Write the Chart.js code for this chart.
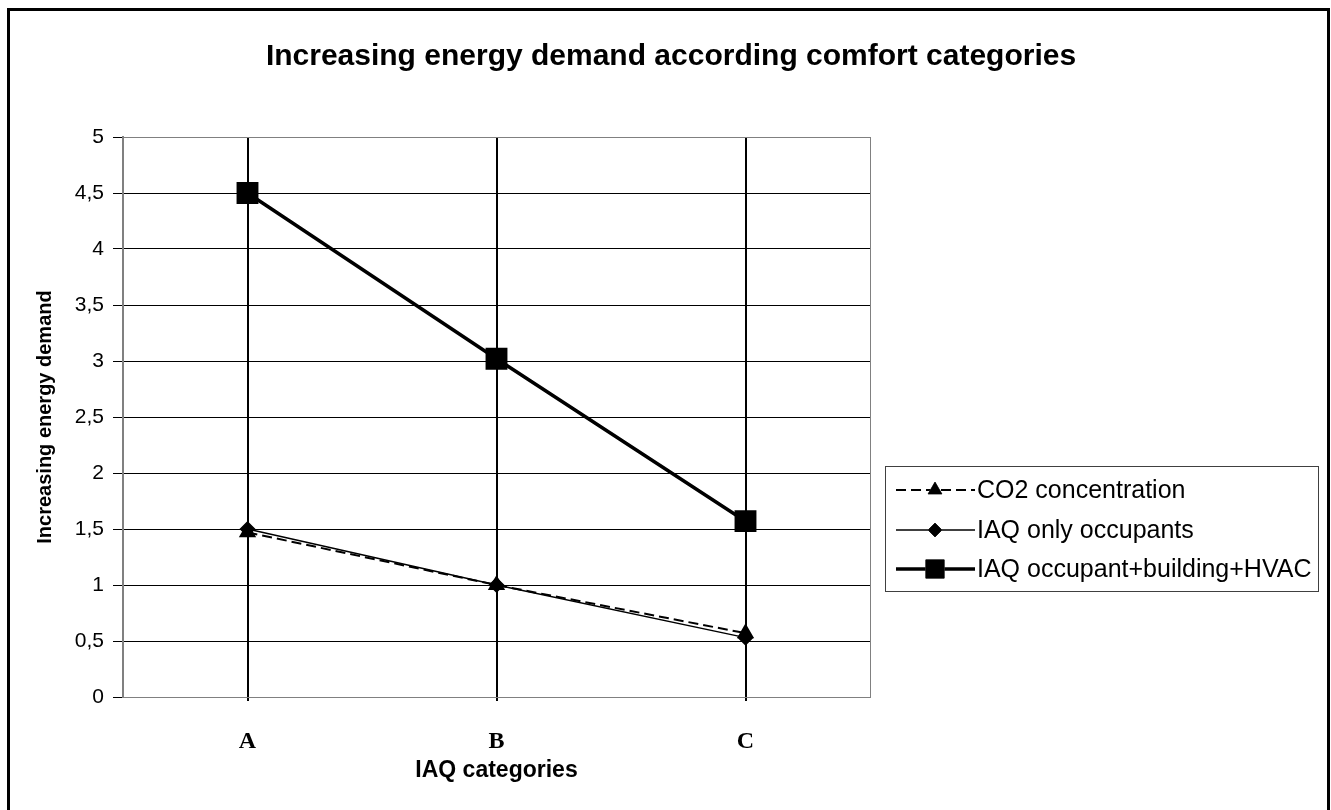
<!DOCTYPE html>
<html>
<head>
<meta charset="utf-8">
<script src="https://cdn.jsdelivr.net/npm/chart.js@4.4.1/dist/chart.umd.min.js"></script>
<style>
  html, body { margin: 0; padding: 0; background: #fff; }
  #wrap { width: 1331px; height: 810px; position: relative; }
</style>
</head>
<body>
<div id="wrap"><canvas id="c" width="1331" height="810"></canvas></div>
<script>
// IAQ comfort categories vs. relative energy demand (three approaches).
const categories = ['A', 'B', 'C'];
const co2Concentration = [1.47, 1.0, 0.57];
const iaqOnlyOccupants = [1.5, 1.0, 0.53];
const iaqOccupantBuildingHvac = [4.5, 3.02, 1.57];
const seriesNames = ['CO2 concentration', 'IAQ only occupants', 'IAQ occupant+building+HVAC'];

// Frame, title and boxed legend drawn on the canvas (Excel-style).
const decorations = {
    id: 'decorations',
    beforeDraw(chart) {
        const c = chart.ctx;
        c.save();
        c.fillStyle = '#fff';
        c.fillRect(0, 0, chart.width, chart.height);
        c.restore();
    },
    afterDraw(chart) {
        const c = chart.ctx;
        const a = chart.chartArea;
        c.save();
        // plot area border
        c.strokeStyle = '#808080';
        c.lineWidth = 1;
        c.strokeRect(a.left + 0.5, a.top + 0.5, a.right - a.left, a.bottom - a.top);
        // outer frame
        c.strokeStyle = '#000';
        c.lineWidth = 3;
        c.strokeRect(8.5, 9.5, 1320, 830);
        // title
        c.fillStyle = '#000';
        c.font = 'bold 30px Arial, "Liberation Sans", sans-serif';
        c.textAlign = 'center';
        c.textBaseline = 'middle';
        c.fillText('Increasing energy demand according comfort categories', 671, 57);
        // legend
        const lx = 885, ly = 466, lw = 433, lh = 125;
        c.strokeStyle = '#404040';
        c.lineWidth = 1;
        c.strokeRect(lx + 0.5, ly + 0.5, lw, lh);
        const rows = [490, 530, 569];
        c.font = '25px Arial, "Liberation Sans", sans-serif';
        c.textAlign = 'left';
        chart.data.datasets.forEach((ds, i) => {
            const y = rows[i];
            c.save();
            c.strokeStyle = '#000';
            c.lineWidth = ds.borderWidth;
            c.setLineDash(ds.borderDash || []);
            c.beginPath();
            c.moveTo(896, y);
            c.lineTo(975, y);
            c.stroke();
            c.restore();
            Chart.helpers.drawPoint(c, {
                pointStyle: ds.pointStyle, radius: ds.pointRadius, rotation: 0, borderWidth: 1
            }, 935, y);
            c.fillStyle = '#000';
            c.fill();
            c.fillText(ds.label, 977, y + 1);
        });
        c.restore();
    }
};

const commaTick = v => String(v).replace('.', ',');

new Chart(document.getElementById('c'), {
    type: 'line',
    data: {
        labels: categories,
        datasets: [
            { label: seriesNames[0], data: co2Concentration, borderColor: '#000', backgroundColor: '#000',
              borderWidth: 2, borderDash: [10, 5], pointStyle: 'triangle', pointRadius: 8, tension: 0 },
            { label: seriesNames[1], data: iaqOnlyOccupants, borderColor: '#000', backgroundColor: '#000',
              borderWidth: 1.5, pointStyle: 'rectRot', pointRadius: 7, tension: 0 },
            { label: seriesNames[2], data: iaqOccupantBuildingHvac, borderColor: '#000', backgroundColor: '#000',
              borderWidth: 3.5, pointStyle: 'rect', pointRadius: 13, tension: 0 }
        ]
    },
    options: {
        responsive: false,
        animation: false,
        layout: { padding: { left: 0, right: 461, top: 137, bottom: 0 } },
        plugins: {
            legend: { display: false },
            title: { display: false },
            tooltip: { enabled: false }
        },
        scales: {
            x: {
                offset: true,
                afterFit: s => { s.height = 113; },
                grid: { offset: false, color: '#000', lineWidth: 2, tickLength: 4, drawOnChartArea: true },
                border: { display: false },
                ticks: { color: '#000', padding: 26,
                         font: { family: '"Liberation Serif", "Times New Roman", serif', size: 24, weight: 'bold' } },
                title: { display: true, text: 'IAQ categories', color: '#000',
                         font: { family: 'Arial, "Liberation Sans", sans-serif', size: 23, weight: 'bold' },
                         padding: { top: 0, bottom: 26 } }
            },
            y: {
                min: 0, max: 5,
                afterFit: s => { s.width = 123; },
                grid: { color: '#000', lineWidth: 1, tickLength: 10 },
                border: { color: '#808080', width: 2 },
                ticks: { stepSize: 0.5, color: '#000', padding: 9, callback: commaTick,
                         font: { family: 'Arial, "Liberation Sans", sans-serif', size: 21 } },
                title: { display: true, text: 'Increasing energy demand', color: '#000',
                         font: { family: 'Arial, "Liberation Sans", sans-serif', size: 20, weight: 'bold' },
                         padding: { top: 33, bottom: 0 } }
            }
        }
    },
    plugins: [decorations]
});
</script>
</body>
</html>
